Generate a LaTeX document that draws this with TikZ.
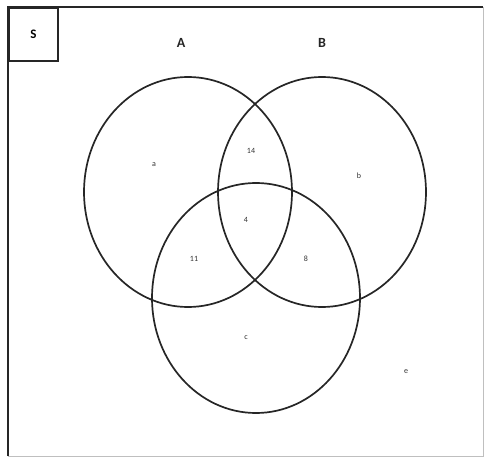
\documentclass[tikz,border=0pt]{standalone}
\usepackage{fontspec}
\setmainfont{Carlito}
\begin{document}
\begin{tikzpicture}[x=1pt,y=-1pt,
  setline/.style={line width=1.7pt, draw=black!85},
  setname/.style={font=\bfseries\fontsize{14}{14}\selectfont, text=black!85},
  region/.style={font=\fontsize{8}{8}\selectfont, text=black!80}]
\useasboundingbox (0,0) rectangle (484,457);
\fill[white] (0,0) rectangle (484,457);
% universal set frame
\draw[black!25, line width=0.8pt] (8,7) -- (483,7) -- (483,456) -- (8,456);
\draw[setline] (8,456) -- (8,7) -- (483,7);
\node[draw=black!85, line width=1.7pt, minimum width=49pt, minimum height=53pt, anchor=north west,
      font=\bfseries\fontsize{13}{13}\selectfont] (S) at (8,7) {S};
% the three sets
\draw[setline] (188,192) ellipse [x radius=104, y radius=115];
\draw[setline] (322,192) ellipse [x radius=104, y radius=115];
\draw[setline] (256,298) ellipse [x radius=104, y radius=115];
\node[setname] (A) at (181,43) {A};
\node[setname] (B) at (322,43) {B};
% region entries
\node[region] (ra) at (154,165) {a};
\node[region] (rab) at (251,151) {14};
\node[region] (rb) at (359,176) {b};
\node[region] (rabc) at (246,220) {4};
\node[region] (rac) at (194,259) {11};
\node[region] (rbc) at (306,259) {8};
\node[region] (rc) at (246,338) {c};
\node[region] (re) at (406,372) {e};
\end{tikzpicture}
\end{document}
